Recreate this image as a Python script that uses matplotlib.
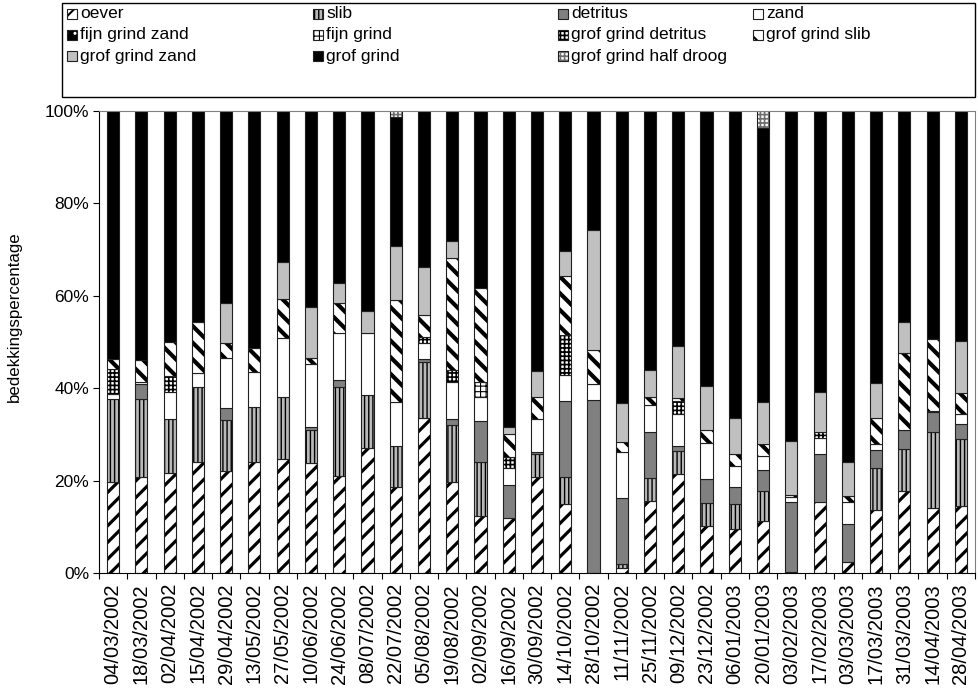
import matplotlib
matplotlib.use("Agg")
import matplotlib.pyplot as plt
from matplotlib.patches import Rectangle
import numpy as np

plt.rcParams['font.family'] = ['Liberation Sans', 'DejaVu Sans']

dates = ["04/03/2002", "18/03/2002", "02/04/2002", "15/04/2002", "29/04/2002",
         "13/05/2002", "27/05/2002", "10/06/2002", "24/06/2002", "08/07/2002",
         "22/07/2002", "05/08/2002", "19/08/2002", "02/09/2002", "16/09/2002",
         "30/09/2002", "14/10/2002", "28/10/2002", "11/11/2002", "25/11/2002",
         "09/12/2002", "23/12/2002", "06/01/2003", "20/01/2003", "03/02/2003",
         "17/02/2003", "03/03/2003", "17/03/2003", "31/03/2003", "14/04/2003",
         "28/04/2003"]

series_names = ["oever", "slib", "detritus", "zand", "fijn grind zand", "fijn grind",
                "grof grind detritus", "grof grind slib", "grof grind zand",
                "grof grind", "grof grind half droog"]

oever = [19.8, 20.8, 21.6, 24.1, 22.2, 24.0, 24.8, 23.9, 21.1, 27.2, 18.6, 33.7, 19.8, 12.4,
         11.9, 20.8, 14.9, 0, 1.2, 15.7, 21.4, 10.3, 9.5, 11.4, 0.3, 15.5, 2.5, 13.8, 17.7,
         14.1, 14.6]
slib = [18.0, 17.0, 11.8, 16.3, 11.0, 12.0, 13.3, 7.1, 19.1, 11.4, 9.0, 11.9, 12.2, 11.6,
        0, 5.0, 5.9, 0, 0.8, 5.0, 5.0, 5.0, 5.5, 6.3, 0, 0, 0, 8.9, 9.1, 16.5, 14.5]
detritus = [0, 3.1, 0, 0, 2.5, 0, 0, 0.7, 1.7, 0, 0, 0.7, 1.3, 9.0, 7.3, 0.5, 16.5, 37.5,
            14.2, 9.9, 1.2, 5.2, 3.7, 4.6, 15.1, 10.2, 8.1, 4.0, 4.3, 4.3, 3.2]
zand = [1.0, 0.4, 5.8, 2.9, 10.9, 7.5, 12.8, 13.5, 10.0, 13.3, 9.4, 3.6, 8.1, 5.2, 3.5, 7.0,
        5.7, 3.4, 10.0, 5.7, 6.8, 7.6, 4.6, 3.1, 1.0, 3.5, 4.9, 1.3, 0, 0.3, 2.1]
fijn_grind_zand = [0] * 31
fijn_grind = [0] * 13 + [3.2] + [0] * 17
grof_grind_detritus = [5.3, 0, 3.5, 0, 0, 0, 0, 0, 0, 0, 0, 1.3, 2.6, 0, 2.5, 0, 8.5, 0, 0,
                       0, 2.8, 0, 0, 0, 0, 1.4, 0, 0, 0, 0, 0]
grof_grind_slib = [2.2, 4.8, 7.3, 11.0, 3.3, 5.3, 8.5, 1.4, 6.5, 0, 22.1, 4.7, 24.1, 20.4,
                   4.9, 4.9, 12.8, 7.5, 2.1, 1.9, 0.8, 3.0, 2.6, 2.5, 0.6, 0, 1.2, 5.5, 16.5,
                   15.5, 4.5]
grof_grind_zand = [0, 0, 0, 0, 8.6, 0, 7.9, 11.1, 4.4, 4.8, 11.7, 10.4, 3.8, 0, 1.5, 5.5,
                   5.5, 25.8, 8.6, 5.8, 11.2, 9.5, 7.8, 9.2, 11.7, 8.7, 7.4, 7.7, 6.7, 0, 11.3]
grof_grind = [53.7, 53.9, 50.0, 45.7, 41.5, 51.2, 32.7, 42.3, 37.2, 43.3, 27.8, 33.7, 28.1,
              38.2, 68.4, 56.3, 30.2, 25.8, 63.1, 56.0, 50.8, 59.4, 66.3, 59.3, 71.3, 60.7,
              75.9, 58.8, 45.7, 49.3, 49.8]
grof_grind_half_droog = [0] * 10 + [1.4] + [0] * 12 + [3.6] + [0] * 7

series_values = [oever, slib, detritus, zand, fijn_grind_zand, fijn_grind,
                 grof_grind_detritus, grof_grind_slib, grof_grind_zand, grof_grind,
                 grof_grind_half_droog]

# fill colour, hatch, hatch colour, hatch line width
styles = [
    ("white", "//", "black", 2.3),
    ("#b8b8b8", "||||", "black", 1.0),
    ("#808080", None, None, 0),
    ("white", None, None, 0),
    ("black", "..", "white", 1.0),
    ("white", "+++", "black", 0.8),
    ("white", "++++", "black", 1.2),
    ("white", "\\\\", "black", 3.0),
    ("#c0c0c0", None, None, 0),
    ("black", None, None, 0),
    ("white", "++++", "#707070", 1.2),
]

W, H = 979, 695
fig = plt.figure(figsize=(W / 100, H / 100), dpi=100)


def fx(px):
    return px / W


def fy(py):
    return 1 - py / H


ax = fig.add_axes([fx(99), fy(573.3), fx(975) - fx(99), fy(111) - fy(573.3)])

x = np.arange(len(dates))
bw = 0.43
bottom = np.zeros(len(dates))


def draw_layers(target, xs, hs, bots, style, width):
    face, hatch, hcol, hlw = style
    target.bar(xs, hs, width, bottom=bots, color=face, linewidth=0)
    if hatch:
        with plt.rc_context({"hatch.linewidth": hlw, "hatch.color": hcol}):
            bars = target.bar(xs, hs, width, bottom=bots, facecolor="none",
                              edgecolor=hcol, hatch=hatch, linewidth=0)
            for b in bars:
                if hasattr(b, "set_hatch_linewidth"):
                    b.set_hatch_linewidth(hlw)
    target.bar(xs, hs, width, bottom=bots, facecolor="none", edgecolor="#202020",
               linewidth=0.8)


for vals, st in zip(series_values, styles):
    v = np.array(vals, dtype=float)
    m = v > 0
    if m.any():
        draw_layers(ax, x[m], v[m], bottom[m], st, bw)
    bottom += v

ax.set_xlim(-0.5, len(dates) - 0.5)
ax.set_ylim(0, 100)
ax.set_yticks([0, 20, 40, 60, 80, 100])
ax.set_yticklabels(["0%", "20%", "40%", "60%", "80%", "100%"], fontsize=12.5)
ax.set_xticks(x)
ax.set_xticklabels(dates, rotation=90, fontsize=14.5)
ax.set_xticks(np.arange(-0.5, len(dates)), minor=True)
ax.tick_params(axis="x", which="major", length=0, pad=7)
ax.tick_params(axis="x", which="minor", length=4, width=0.8, direction="out")
ax.tick_params(axis="y", length=4, width=0.8, direction="out", pad=3)

for side in ("top", "right"):
    ax.spines[side].set_color("#808080")
    ax.spines[side].set_linewidth(0.8)
for side in ("left", "bottom"):
    ax.spines[side].set_color("black")
    ax.spines[side].set_linewidth(0.8)

fig.text(fx(14), fy(317), "bedekkingspercentage", rotation=90,
         ha="center", va="center", fontsize=12.2)

# legend block
fig.add_artist(Rectangle((fx(62), fy(97)), fx(975) - fx(62), fy(3) - fy(97),
                         transform=fig.transFigure, facecolor="white",
                         edgecolor="black", linewidth=1.0))
col_x = [67, 313, 558, 753]
row_y = [14, 35, 56]
box = 10
for i, (name, st) in enumerate(zip(series_names, styles)):
    r, c = divmod(i, 4)
    x0, yc = col_x[c], row_y[r]
    face, hatch, hcol, hlw = st
    fig.add_artist(Rectangle((fx(x0), fy(yc + box / 2)), box / W, box / H,
                             transform=fig.transFigure, facecolor=face, linewidth=0))
    if hatch:
        with plt.rc_context({"hatch.linewidth": min(hlw, 1.5), "hatch.color": hcol}):
            hp = Rectangle((fx(x0), fy(yc + box / 2)), box / W, box / H,
                           transform=fig.transFigure, facecolor="none", edgecolor=hcol,
                           hatch=hatch, linewidth=0)
            if hasattr(hp, "set_hatch_linewidth"):
                hp.set_hatch_linewidth(min(hlw, 1.5))
            fig.add_artist(hp)
    fig.add_artist(Rectangle((fx(x0), fy(yc + box / 2)), box / W, box / H,
                             transform=fig.transFigure, facecolor="none",
                             edgecolor="#202020", linewidth=0.8))
    fig.text(fx(x0 + box + 3), fy(yc), name, ha="left", va="center", fontsize=12.5)

fig.savefig("out.png", dpi=100)
